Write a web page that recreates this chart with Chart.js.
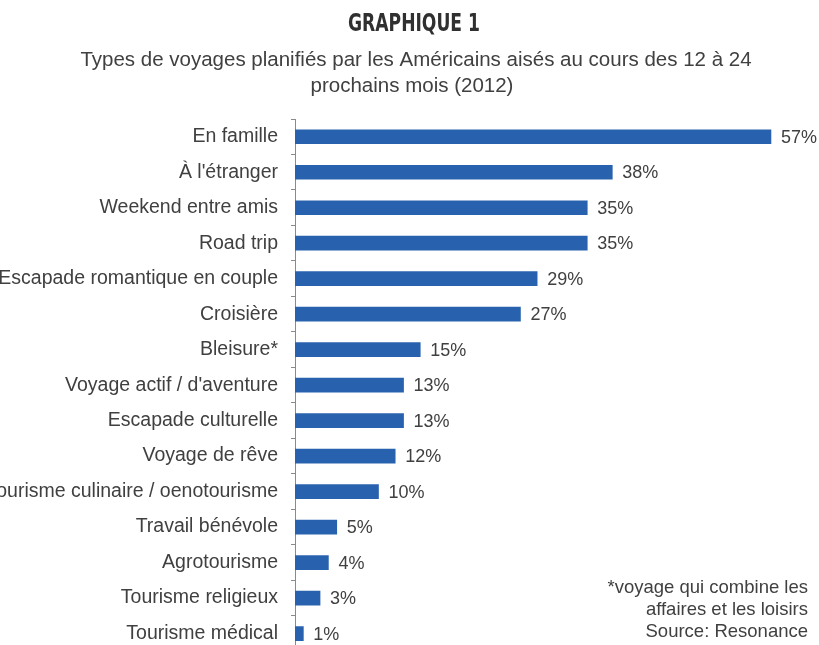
<!DOCTYPE html>
<html>
<head>
<meta charset="utf-8">
<script src="https://cdn.jsdelivr.net/npm/chart.js@4"></script>
<style>
    html, body { margin: 0; padding: 0; background: #fff; overflow: hidden; }
</style>
</head>
<body>
<canvas id="travelChart" width="819" height="676"></canvas>
<script>
const categories = [
    'En famille',
    "À l'étranger",
    'Weekend entre amis',
    'Road trip',
    'Escapade romantique en couple',
    'Croisière',
    'Bleisure*',
    "Voyage actif / d'aventure",
    'Escapade culturelle',
    'Voyage de rêve',
    'Tourisme culinaire / oenotourisme',
    'Travail bénévole',
    'Agrotourisme',
    'Tourisme religieux',
    'Tourisme médical'
];
const shares = [57, 38, 35, 35, 29, 27, 15, 13, 13, 12, 10, 5, 4, 3, 1];
const footnote = ['*voyage qui combine les', 'affaires et les loisirs', 'Source: Resonance'];
const heading = 'GRAPHIQUE 1';
const subheading = ['Types de voyages planifiés par les Américains aisés au cours des 12 à 24', 'prochains mois (2012)'];

const textColor = '#404040';

// heading, subheading, value labels at the end of each bar, footnote
const extras = {
    id: 'extras',
    afterDatasetsDraw(chart) {
        const ctx = chart.ctx;
        const meta = chart.getDatasetMeta(0);
        ctx.save();
        ctx.font = '18px "Liberation Sans", Arial, sans-serif';
        ctx.fillStyle = textColor;
        ctx.textAlign = 'left';
        ctx.textBaseline = 'middle';
        meta.data.forEach((bar, i) => {
            ctx.fillText(shares[i] + '%', bar.x + 10, bar.y + 1);
        });
        ctx.font = '18.5px "Liberation Sans", Arial, sans-serif';
        ctx.textAlign = 'right';
        footnote.forEach((line, i) => {
            ctx.fillText(line, 808, 588 + i * 22);
        });
        ctx.font = '20.5px "Liberation Sans", Arial, sans-serif';
        ctx.textAlign = 'center';
        ctx.fillText(subheading[0], 416, 60);
        ctx.fillText(subheading[1], 412, 86);
        ctx.restore();

        // condensed heading
        ctx.save();
        ctx.font = 'bold 24px "DejaVu Sans Condensed", sans-serif';
        ctx.fillStyle = '#303030';
        ctx.textBaseline = 'middle';
        ctx.textAlign = 'center';
        const w = ctx.measureText(heading).width;
        ctx.translate(414, 24);
        ctx.scale(132 / w, 1.05);
        ctx.fillText(heading, 0, 0);
        ctx.restore();
    }
};

const ctx = document.getElementById('travelChart').getContext('2d');
new Chart(ctx, {
    type: 'bar',
    data: {
        labels: categories,
        datasets: [{
            data: shares,
            backgroundColor: '#2862ae',
            barThickness: 14,
            borderWidth: 0
        }]
    },
    options: {
        indexAxis: 'y',
        responsive: false,
        animation: false,
        layout: {
            padding: { top: 119, right: 23, bottom: 10, left: 0 }
        },
        scales: {
            x: {
                display: false,
                min: 0,
                max: 60
            },
            y: {
                afterFit: (scale) => { scale.width = 295; },
                border: { display: true, color: '#8a8a8a', width: 1 },
                grid: {
                    drawOnChartArea: false,
                    drawTicks: true,
                    tickLength: 4,
                    color: '#8a8a8a'
                },
                ticks: {
                    color: textColor,
                    padding: 13,
                    font: { family: '"Liberation Sans", Arial, sans-serif', size: 19.5 }
                }
            }
        },
        plugins: {
            legend: { display: false },
            tooltip: { enabled: false },
            title: { display: false }
        }
    },
    plugins: [extras]
});
</script>
</body>
</html>
